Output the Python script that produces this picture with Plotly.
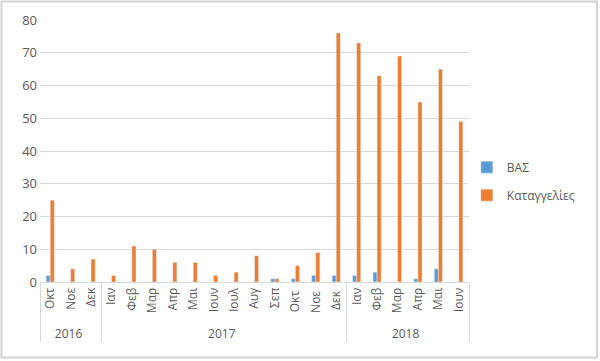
import plotly.graph_objects as go

years = ["2016"] * 3 + ["2017"] * 12 + ["2018"] * 6
months = ["Οκτ", "Νοε", "Δεκ",
          "Ιαν", "Φεβ", "Μαρ", "Απρ", "Μαι", "Ιουν", "Ιουλ", "Αυγ", "Σεπ", "Οκτ", "Νοε", "Δεκ",
          "Ιαν", "Φεβ", "Μαρ", "Απρ", "Μαι", "Ιουν"]
vas = [2, 0, 0, 0, 0, 0, 0, 0, 0, 0, 0, 1, 1, 2, 2, 2, 3, 0, 1, 4, 0]
katagg = [25, 4, 7, 2, 11, 10, 6, 6, 2, 3, 8, 1, 5, 9, 76, 73, 63, 69, 55, 65, 49]

FONT = "Open Sans"
TXT = "#595959"

# Plotly orders inner multicategory labels by first appearance across all groups;
# a month label that repeats in 2017 gets a trailing space so it stays in place.
seen = set()
inner = []
for y, m in zip(years, months):
    lab = m
    if m in seen and y == "2017":
        lab = m + " "
    seen.add(m)
    inner.append(lab)

fig = go.Figure()
fig.add_trace(go.Bar(x=[years, inner], y=vas, name="ΒΑΣ", marker_color="#5B9BD5",
                     legendgroup="a"))
fig.add_trace(go.Bar(x=[years, inner], y=katagg, name="Καταγγελίες", marker_color="#ED7D31",
                     legendgroup="b"))

fig.update_layout(
    width=600, height=361,
    margin=dict(l=40, r=131, t=20, b=79),
    paper_bgcolor="white", plot_bgcolor="white",
    barmode="group", bargap=0.6, bargroupgap=0,
    hovermode=False,
    font=dict(family=FONT, size=12, color=TXT),
    showlegend=True,
    legend=dict(x=0.995, y=0.385, xanchor="left", yanchor="middle",
                font=dict(size=12, color=TXT), tracegroupgap=9,
                itemwidth=30),
)
fig.update_yaxes(range=[0, 80], dtick=10, showgrid=True, gridcolor="#D9D9D9",
                 gridwidth=1, zeroline=False, showline=False, ticks="",
                 ticklabelstandoff=2,
                 tickfont=dict(size=13, color=TXT), automargin=False)
fig.update_xaxes(type="multicategory", tickangle=-90, showline=True, linecolor="#D9D9D9",
                 showdividers=True, dividercolor="#D9D9D9", dividerwidth=1,
                 tickfont=dict(size=12, color=TXT), automargin=False, ticks="")
fig.add_shape(type="rect", xref="paper", yref="paper",
              x0=-38.5 / 429, x1=(597 - 40) / 429, y0=-(357.5 - 282) / 262, y1=(282 - 1.5) / 262,
              line=dict(color="#D4D4D4", width=2), fillcolor="rgba(0,0,0,0)", layer="below")
fig.write_html("out.html", config={"displayModeBar": False},
               post_script="document.body.style.margin='0';")
